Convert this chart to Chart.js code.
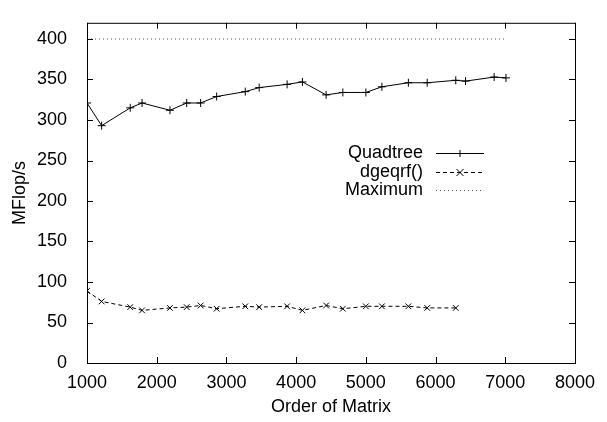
<!DOCTYPE html>
<html>
<head>
<meta charset="utf-8">
<script src="https://cdn.jsdelivr.net/npm/chart.js@4"></script>
<style>
  html, body { margin: 0; padding: 0; background: #fff; }
  #chart { display: block; }
</style>
</head>
<body>
<canvas id="chart" width="607" height="422"></canvas>
<script>
// Data
const orderQuadtree = [1000, 1210, 1620, 1790, 2190, 2430, 2630, 2860, 3270, 3470, 3870, 4090, 4430, 4670, 5000, 5230, 5610, 5880, 6290, 6430, 6840, 7010];
const mflopsQuadtree = [321, 293, 315, 321, 312, 321, 321, 329, 335, 340, 344, 347, 331, 334, 334, 341, 346, 346, 349, 348, 353, 352];
const orderDgeqrf = [1000, 1210, 1620, 1790, 2190, 2430, 2630, 2860, 3270, 3470, 3870, 4090, 4430, 4670, 5000, 5230, 5610, 5880, 6290];
const mflopsDgeqrf = [89, 76, 69, 65, 68, 69, 71, 67, 70, 69, 70, 65, 71, 67, 70, 70, 70, 68, 68];
const orderMaximum = [1000, 7000];
const mflopsMaximum = [400, 400];
const seriesNames = ['Quadtree', 'dgeqrf()', 'Maximum'];
const xTickValues = [1000, 2000, 3000, 4000, 5000, 6000, 7000, 8000];
const yTickValues = [0, 50, 100, 150, 200, 250, 300, 350, 400];

const FONT = 'Liberation Sans, Arial, sans-serif';

function pts(xs, ys) {
    return xs.map((x, i) => ({ x: x, y: ys[i] }));
}

// gnuplot style frame: box + inward ticks on all four sides + legend on the right
const gnuplotFrame = {
    id: 'gnuplotFrame',
    afterDraw(chart) {
        const ctx = chart.ctx;
        const a = chart.chartArea;
        const xs = chart.scales.x, ys = chart.scales.y;
        ctx.save();
        ctx.strokeStyle = '#000';
        ctx.lineWidth = 1;
        ctx.strokeRect(a.left + 0.5, a.top + 0.5, a.right - a.left, a.bottom - a.top);
        const t = 6;
        ctx.beginPath();
        xs.ticks.forEach(tk => {
            const px = Math.round(xs.getPixelForValue(tk.value)) + 0.5;
            ctx.moveTo(px, a.bottom); ctx.lineTo(px, a.bottom - t);
            ctx.moveTo(px, a.top); ctx.lineTo(px, a.top + t);
        });
        ys.ticks.forEach(tk => {
            const py = Math.round(ys.getPixelForValue(tk.value)) + 0.5;
            ctx.moveTo(a.left, py); ctx.lineTo(a.left + t, py);
            ctx.moveTo(a.right, py); ctx.lineTo(a.right - t, py);
        });
        ctx.stroke();

        // legend
        ctx.font = '18px ' + FONT;
        ctx.textAlign = 'right';
        ctx.textBaseline = 'middle';
        ctx.fillStyle = '#000';
        const rowY = [153, 172, 190];
        chart.data.datasets.forEach((ds, i) => {
            const y = rowY[i] + 0.5;
            ctx.fillText(ds.label, 423, rowY[i]);
            ctx.beginPath();
            ctx.setLineDash(ds.borderDash || []);
            ctx.strokeStyle = ds.borderColor;
            ctx.moveTo(436, y); ctx.lineTo(484, y);
            ctx.stroke();
            ctx.setLineDash([]);
            if (ds.pointRadius > 0) {
                ctx.beginPath();
                const r = 3.5, cx = 460;
                if (ds.pointStyle === 'cross') {
                    ctx.moveTo(cx - r, y); ctx.lineTo(cx + r, y);
                    ctx.moveTo(cx, y - r); ctx.lineTo(cx, y + r);
                } else {
                    ctx.moveTo(cx - r, y - r); ctx.lineTo(cx + r, y + r);
                    ctx.moveTo(cx - r, y + r); ctx.lineTo(cx + r, y - r);
                }
                ctx.strokeStyle = '#000';
                ctx.stroke();
            }
        });
        ctx.restore();
    }
};

const ctx = document.getElementById('chart').getContext('2d');
const chart = new Chart(ctx, {
    type: 'scatter',
    data: {
        datasets: [
            {
                label: seriesNames[0], data: pts(orderQuadtree, mflopsQuadtree), showLine: true,
                borderColor: '#000', borderWidth: 1, pointStyle: 'cross', pointRadius: 4,
                pointBorderColor: '#000', pointBorderWidth: 1
            },
            {
                label: seriesNames[1], data: pts(orderDgeqrf, mflopsDgeqrf), showLine: true,
                borderColor: '#000', borderWidth: 1, borderDash: [4, 3], pointStyle: 'crossRot', pointRadius: 4,
                pointBorderColor: '#000', pointBorderWidth: 1
            },
            {
                label: seriesNames[2], data: pts(orderMaximum, mflopsMaximum), showLine: true,
                borderColor: '#555', borderWidth: 1, borderDash: [1, 3], pointRadius: 0
            }
        ]
    },
    options: {
        responsive: false,
        animation: false,
        layout: { padding: { top: 18, right: 32, left: 0, bottom: 0 } },
        plugins: { legend: { display: false }, tooltip: { enabled: false } },
        scales: {
            x: {
                type: 'linear', min: 1000, max: 8000,
                grid: { display: false },
                border: { display: false },
                afterBuildTicks(s) { s.ticks = xTickValues.map(v => ({ value: v })); },
                ticks: {
                    color: '#000', padding: 1,
                    font: { family: FONT, size: 18 },
                    maxRotation: 0, autoSkip: false,
                    callback: v => String(v)
                },
                title: { display: true, text: 'Order of Matrix', color: '#000', font: { family: FONT, size: 18 }, padding: { top: 8 } },
                afterFit(s) { s.height = 59; }
            },
            y: {
                type: 'linear', min: 0, max: 420,
                grid: { display: false },
                border: { display: false },
                afterBuildTicks(s) { s.ticks = yTickValues.map(v => ({ value: v })); },
                ticks: {
                    color: '#000', padding: 12, autoSkip: false,
                    font: { family: FONT, size: 18 },
                    callback: v => String(v)
                },
                title: { display: true, text: 'MFlop/s', color: '#000', font: { family: FONT, size: 18 }, padding: { top: 9, bottom: 0 } },
                afterFit(s) { s.width = 87; }
            }
        }
    },
    plugins: [gnuplotFrame]
});
</script>
</body>
</html>
